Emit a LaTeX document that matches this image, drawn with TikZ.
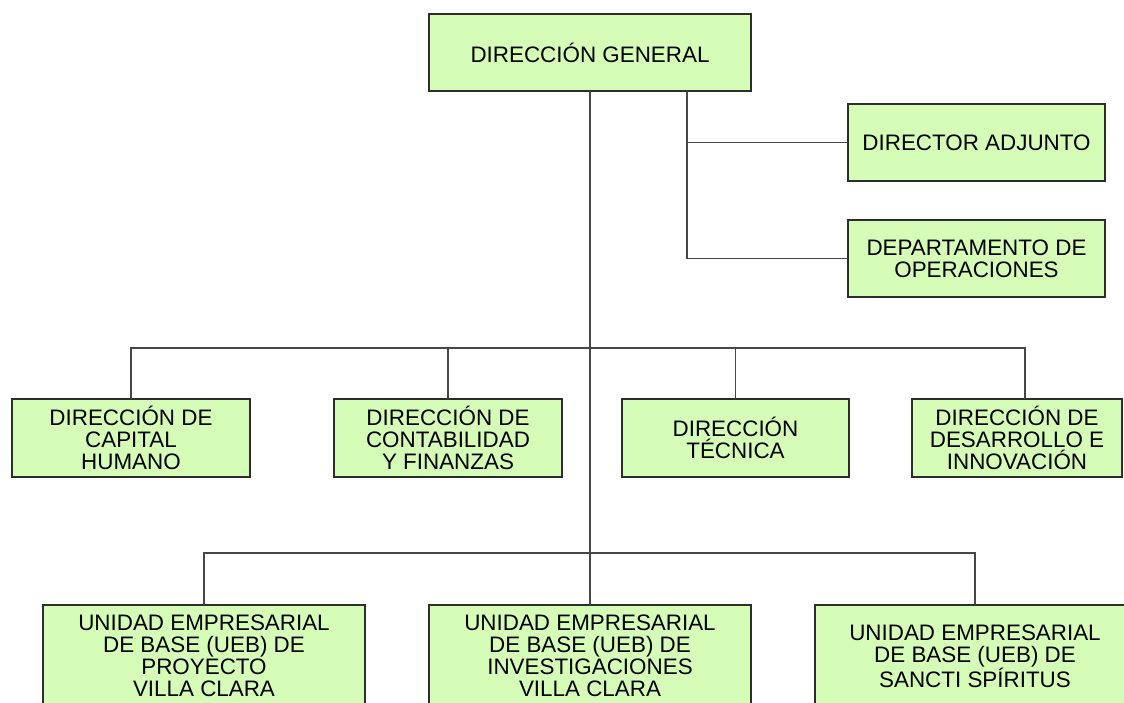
\documentclass[tikz,border=0pt]{standalone}
\usepackage{fontspec}
\setmainfont{Liberation Sans}
\definecolor{boxfill}{RGB}{214,253,183}
\definecolor{boxline}{RGB}{45,45,45}
\definecolor{connline}{RGB}{70,70,70}
\begin{document}
\begin{tikzpicture}[x=1pt,y=-1pt,
  orgbox/.style={draw=boxline, fill=boxfill, line width=1.4pt, inner sep=0pt, outer sep=0pt,
    align=center, font=\fontsize{22.4}{22}\selectfont, text=black},
  conn/.style={draw=connline, line width=1.2pt}]
\useasboundingbox (0,0) rectangle (1124,702);
\clip (0,0) rectangle (1124,702);
% boxes
\node[orgbox, minimum width=322pt, minimum height=77pt] (dg) at (590,52.5) {DIRECCIÓN GENERAL};
\node[orgbox, minimum width=257pt, minimum height=77pt] (da) at (976.5,142.5) {DIRECTOR ADJUNTO};
\node[orgbox, minimum width=257pt, minimum height=77pt] (do) at (976.5,258.5) {DEPARTAMENTO DE\\OPERACIONES};
\node[orgbox, minimum width=238pt, minimum height=78pt] (d1) at (131,438) {DIRECCIÓN DE\\CAPITAL\\HUMANO};
\node[orgbox, minimum width=228pt, minimum height=78pt] (d2) at (448,438) {DIRECCIÓN DE\\CONTABILIDAD\\Y FINANZAS};
\node[orgbox, minimum width=227pt, minimum height=78pt] (d3) at (735.5,438) {DIRECCIÓN\\TÉCNICA};
\node[orgbox, minimum width=210pt, minimum height=78pt] (d4) at (1017,438) {DIRECCIÓN DE\\DESARROLLO E\\INNOVACIÓN};
\node[orgbox, minimum width=322pt, minimum height=102pt] (u1) at (204,656) {UNIDAD EMPRESARIAL\\DE BASE (UEB) DE\\PROYECTO\\VILLA CLARA};
\node[orgbox, minimum width=322pt, minimum height=102pt] (u2) at (590,656) {UNIDAD EMPRESARIAL\\DE BASE (UEB) DE\\INVESTIGACIONES\\VILLA CLARA};
\node[orgbox, minimum width=320pt, minimum height=102pt] (u3) at (975,656) {UNIDAD EMPRESARIAL\\DE BASE (UEB) DE\\SANCTI SPÍRITUS};
% connectors
\coordinate (dgr) at ([xshift=-64pt]dg.south east);
\draw[conn] (dgr) |- (do.west);
\draw[conn] (da.west) -- (da.west -| dgr);
\draw[conn] (dg.south) -- (u2.north);
\coordinate (busA) at (590,348);
\coordinate (d4top) at ([xshift=8pt]d4.north);
\draw[conn] (d1.north) |- (busA) -| (d4top);
\draw[conn] (d2.north) -- (d2.north |- busA);
\draw[conn] (d3.north) -- (d3.north |- busA);
\coordinate (busB) at (590,553);
\draw[conn] (u1.north) |- (busB) -| (u3.north);
\end{tikzpicture}
\end{document}
